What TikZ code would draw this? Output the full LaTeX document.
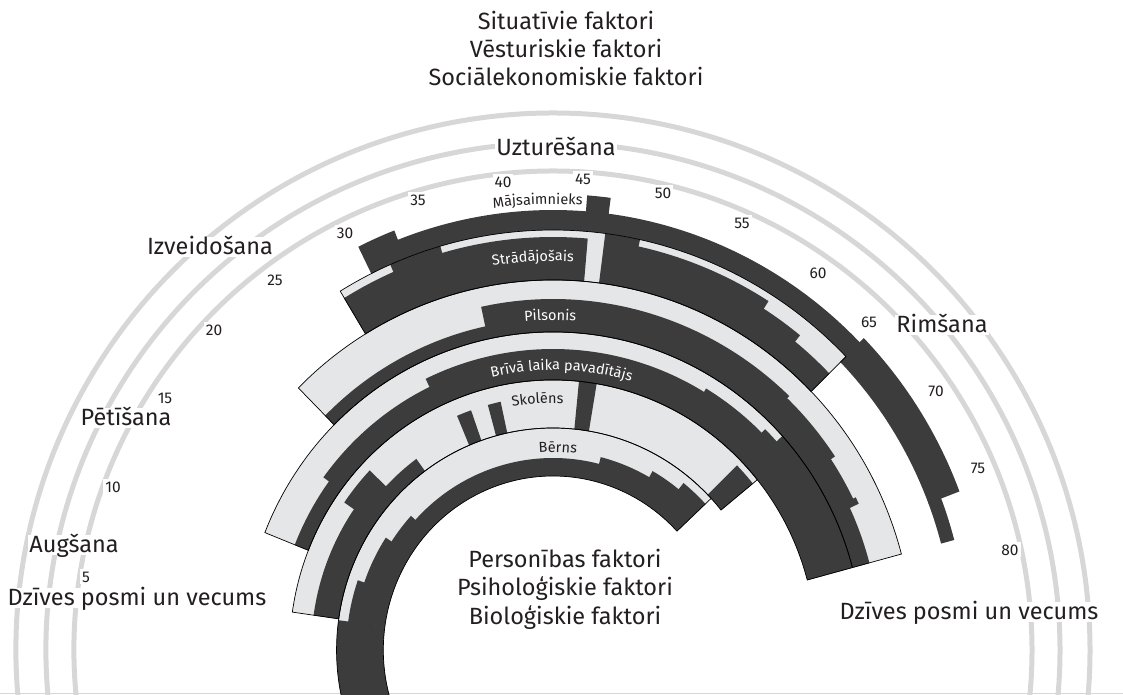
\documentclass[tikz,border=0pt]{standalone}
\usepackage{fontspec}
\setmainfont{Fira Sans}
\usetikzlibrary{decorations.text}
\definecolor{inkdark}{HTML}{3C3C3C}
\definecolor{bandlight}{HTML}{E5E6E7}
\definecolor{guidegray}{HTML}{D7D7D7}
\definecolor{txt}{HTML}{231F20}

% annular sector between ages #2..#3 and radii #4..#5
\newcommand\annsec[5][darkpart]{%
  \fill[#1] ({ang(#2-0.03)}:#4) arc[start angle={ang(#2-0.03)}, end angle={ang(#3+0.03)}, radius=#4]
    -- ({ang(#3+0.03)}:#5) arc[start angle={ang(#3+0.03)}, end angle={ang(#2-0.03)}, radius=#5] -- cycle;}
% light base of a role band
\newcommand\ringbase[4]{%
  \fill[lightpart] ({ang(#1)}:#3) arc[start angle={ang(#1)}, end angle={ang(#2)}, radius=#3]
    -- ({ang(#2)}:#4) arc[start angle={ang(#2)}, end angle={ang(#1)}, radius=#4] -- cycle;}
% thin outline of a role band
\newcommand\ringedge[4]{%
  \draw[edge] ({ang(#1)}:#3) arc[start angle={ang(#1)}, end angle={ang(#2)}, radius=#3]
    -- ({ang(#2)}:#4) arc[start angle={ang(#2)}, end angle={ang(#1)}, radius=#4] -- cycle;}
\newcommand\ringfont{\fontsize{14.5}{14.5}\selectfont}
% curved role name: centre angle, baseline radius, colour, text
\newcommand\arctext[4]{%
  \path[decorate, decoration={text along path, text align=center, text color=#3,
    text={|\ringfont|#4}}] ({#1+30}:#2) arc[start angle={#1+30}, end angle={#1-30}, radius=#2];}

\begin{document}
\begin{tikzpicture}[x=1pt, y=1pt,
  declare function={ang(\a)=180.3-2.092*\a;},
  darkpart/.style={fill=inkdark},
  lightpart/.style={fill=bandlight},
  edge/.style={draw=black, line width=0.7pt, line join=miter},
  guide/.style={draw=guidegray, line width=5pt},
  biglabel/.style={font=\fontsize{23.5}{23.5}\selectfont, text=txt, inner sep=1.5pt,
    fill=white, text height=16.5pt, text depth=1pt},
  agelabel/.style={font=\fontsize{15.5}{15.5}\selectfont, text=txt, inner sep=2pt,
    fill=white, text height=11pt, text depth=0pt},
  plain/.style={font=\fontsize{23.5}{23.5}\selectfont, text=txt, inner sep=0pt,
    text height=16.5pt, text depth=1pt}]

\useasboundingbox (0,0) rectangle (1123,695);
\clip (0,0) rectangle (1123,695);

% guide arcs of the life span
\begin{scope}[shift={(553,45)}]
  \foreach \r in {479,507,537}
    \draw[guide] (192:\r) arc[start angle=192, end angle=-12, radius=\r];
\end{scope}
\draw[guidegray, line width=1.5pt] (0,1.5) -- (1123,1.5);

% factors around the rainbow
\node[plain] (sit)  at (566,673) {Situatīvie faktori};
\node[plain] (vest) at (566,645) {Vēsturiskie faktori};
\node[plain] (soc)  at (566,617) {Sociālekonomiskie faktori};
\node[plain] (pers) at (565,135) {Personības faktori};
\node[plain] (psih) at (565,107) {Psiholoģiskie faktori};
\node[plain] (bio)  at (565,78)  {Bioloģiskie faktori};

% life stages
\node[biglabel] (uzt) at (556,547) {Uzturēšana};
\node[biglabel] (izv) at (210,448) {Izveidošana};
\node[biglabel] (rim) at (942,370) {Rimšana};
\node[biglabel] (pet) at (126,277) {Pētīšana};
\node[biglabel] (aug) at (74,150)  {Augšana};
\node[biglabel] (dzl) at (137,97)  {Dzīves posmi un vecums};
\node[biglabel] (dzr) at (969,83)  {Dzīves posmi un vecums};

% ages
\node[agelabel] (a5)  at (86,118)  {5};
\node[agelabel] (a10) at (113,208) {10};
\node[agelabel] (a15) at (165,297) {15};
\node[agelabel] (a20) at (214,365) {20};
\node[agelabel] (a25) at (275,415) {25};
\node[agelabel] (a30) at (345,462) {30};
\node[agelabel] (a35) at (418,495) {35};
\node[agelabel] (a40) at (503,513) {40};
\node[agelabel] (a45) at (583,516) {45};
\node[agelabel] (a50) at (663,502) {50};
\node[agelabel] (a55) at (742,472) {55};
\node[agelabel] (a60) at (818,422) {60};
\node[agelabel] (a65) at (869,373) {65};
\node[agelabel] (a70) at (936,304) {70};
\node[agelabel] (a75) at (978,227) {75};
\node[agelabel] (a80) at (1010,145) {80};

\begin{scope}[shift={(553,45)}, xscale=0.975]
  % light bases of the role bands
  \ringbase{-9}{65.6}{174}{222}
  \ringbase{4}{67.5}{222}{270}
  \ringbase{10.5}{79}{270}{318}
  \ringbase{21.7}{79}{318}{370}
  \ringbase{28.2}{65}{370}{420}

  % child
  \annsec{-9}{3.8}{174}{222}
  \annsec{3.8}{9.3}{174}{212}
  \annsec{9.3}{16}{174}{205}
  \annsec{16}{20.5}{174}{198}
  \annsec{20.5}{50}{174}{192}
  \annsec{50}{57.4}{174}{199}
  \annsec{57.4}{61.7}{174}{206}
  \annsec{61.7}{65.6}{174}{214}

  % student
  \annsec{4}{16.7}{222}{248}
  \annsec{16.7}{21}{222}{260}
  \annsec{21}{25.8}{222}{237}
  \annsec{32.3}{33.9}{222}{254}
  \annsec{35.9}{37.3}{222}{254}
  \annsec{45.9}{47.7}{222}{270}
  \annsec{65}{67.5}{222}{264}

  % leisurite
  \annsec{10.5}{17.5}{270}{285}
  \annsec{17.5}{30.9}{270}{292}
  \annsec{30.9}{58}{270}{301}
  \annsec{58}{64.5}{270}{305}
  \annsec{64.5}{66}{270}{310}
  \annsec{66}{79}{270}{318}

  % citizen
  \annsec{21.7}{37.4}{318}{331}
  \annsec{37.4}{64}{318}{351}
  \annsec{64}{70}{318}{348}
  \annsec{70}{74}{318}{343}
  \annsec{73.7}{74.2}{318}{346}
  \annsec{74}{79}{318}{336}

  % worker
  \annsec{28.2}{32}{370}{412}
  \annsec{32}{35.5}{370}{420}
  \annsec{35.5}{45.5}{370}{413}
  \annsec{46.7}{49}{370}{420}
  \annsec{49}{58.6}{370}{413}
  \annsec{58.6}{61.7}{370}{404}
  \annsec{61.7}{65}{370}{396}

  % homemaker
  \annsec{30.6}{33}{420}{450}
  \annsec{33}{45.3}{420}{440}
  \annsec{45.3}{46.7}{420}{456}
  \annsec{46.7}{65}{420}{440}
  \annsec{65}{76.2}{412}{446}
  \annsec{76.2}{79}{412}{426}

  % band outlines
  \ringedge{-9}{65.6}{174}{222}
  \ringedge{4}{67.5}{222}{270}
  \ringedge{10.5}{79}{270}{318}
  \ringedge{21.7}{79}{318}{370}
  \ringedge{28.2}{65}{370}{420}

  % role names
  \arctext{92}{446}{txt}{Mājsaimnieks}
  \arctext{93}{389}{white}{Strādājošais}
  \arctext{90.5}{330}{white}{Pilsonis}
  \arctext{88.2}{280}{white}{Brīvā laika pavadītājs}
  \arctext{93.6}{247}{txt}{Skolēns}
  \arctext{88.6}{198}{txt}{Bērns}
\end{scope}
\end{tikzpicture}
\end{document}
